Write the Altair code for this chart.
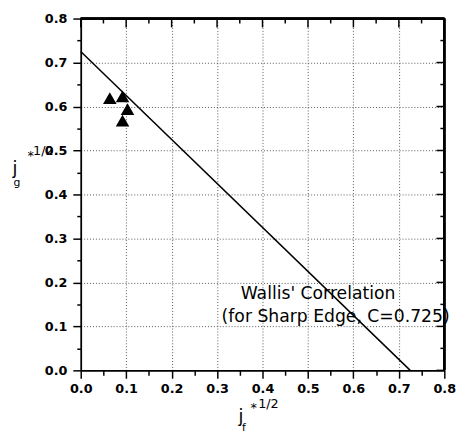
import altair as alt
import pandas as pd

# Wallis' correlation line: jf^1/2 + jg^1/2 = C (C = 0.725)
LINE_JF = [0.0, 0.725]
LINE_JG = [0.725, 0.0]

# Measured points (triangles)
PT_JF = [0.064, 0.092, 0.103, 0.092]
PT_JG = [0.619, 0.623, 0.594, 0.568]

# Axis tick values (major every 0.1, minor in between)
TICKS = [0.0, 0.05, 0.1, 0.15, 0.2, 0.25, 0.3, 0.35, 0.4, 0.45,
         0.5, 0.55, 0.6, 0.65, 0.7, 0.75, 0.8]
MAJOR_TICKS = [0.0, 0.1, 0.2, 0.3, 0.4, 0.5, 0.6, 0.7, 0.8]
MINOR_TICKS = [0.05, 0.15, 0.25, 0.35, 0.45, 0.55, 0.65, 0.75]

NOTE_TEXT = ["Wallis' Correlation", "(for Sharp Edge, C=0.725)"]
NOTE_X = [0.352, 0.31]
NOTE_Y = [0.174, 0.121]

W, H = 370, 358

line_df = pd.DataFrame({"jf": LINE_JF, "jg": LINE_JG})
pt_df = pd.DataFrame({"jf": PT_JF, "jg": PT_JG})
note_df = pd.DataFrame({"jf": NOTE_X, "jg": NOTE_Y, "t": NOTE_TEXT})
maj_df = pd.DataFrame({"v": MAJOR_TICKS})
min_df = pd.DataFrame({"v": MINOR_TICKS})

MAJOR = "abs(datum.value*10 - round(datum.value*10)) < 0.001"
INNER = MAJOR + " && datum.value > 0.01 && datum.value < 0.79"


def cond(test, a, b):
    return {"condition": {"test": test, "value": a}, "value": b}


xs = alt.Scale(domain=[0, 0.8], nice=False, zero=False)
ys = alt.Scale(domain=[0, 0.8], nice=False, zero=False)

common = dict(values=TICKS, title=None, tickColor="black", tickWidth=1.5,
              domainColor="black", domainWidth=1.8, labelOverlap=False,
              labelFlush=False, grid=True, gridOpacity=cond(INNER, 1, 0),
              gridDash=[1, 2], gridColor="#444444", gridWidth=0.9,
              labelFont="DejaVu Sans", labelFontWeight="bold", labelFontSize=13,
              labelColor="black",
              labelExpr=f"{MAJOR} ? format(datum.value, '.1f') : ''")

x_main = alt.Axis(orient="bottom", tickSize=cond(MAJOR, 8, 5), labelPadding=5, **common)
y_main = alt.Axis(orient="left", tickSize=cond(MAJOR, 8, 4), labelPadding=6, **common)

line = alt.Chart(line_df).mark_line(color="black", strokeWidth=1.5).encode(
    x=alt.X("jf:Q", scale=xs, axis=x_main),
    y=alt.Y("jg:Q", scale=ys, axis=y_main),
)

pts = alt.Chart(pt_df).mark_point(shape="triangle-up", filled=True, color="black",
                                  size=190, opacity=1).encode(
    x=alt.X("jf:Q", scale=xs, axis=None),
    y=alt.Y("jg:Q", scale=ys, axis=None),
)


def top_ticks(df, length):
    return alt.Chart(df).mark_rule(color="black", strokeWidth=1.5).encode(
        x=alt.X("v:Q", scale=xs, axis=None),
        y=alt.value(0), y2=alt.value(length))


def right_ticks(df, length):
    return alt.Chart(df).mark_rule(color="black", strokeWidth=1.5).encode(
        y=alt.Y("v:Q", scale=ys, axis=None),
        x=alt.value(W), x2=alt.value(W - length))


frame_top = alt.Chart(maj_df).mark_rule(color="black", strokeWidth=1.8).encode(
    x=alt.value(0), x2=alt.value(W), y=alt.value(0))
frame_right = alt.Chart(maj_df).mark_rule(color="black", strokeWidth=1.8).encode(
    x=alt.value(W), y=alt.value(0), y2=alt.value(H))

note = alt.Chart(note_df).mark_text(align="left", baseline="middle", font="DejaVu Sans",
                                    fontSize=17.5, color="black").encode(
    x=alt.X("jf:Q", scale=xs, axis=None),
    y=alt.Y("jg:Q", scale=ys, axis=None),
    text="t:N",
)

one = pd.DataFrame({"k": [0]})


def label(txt, x, y, size, baseline="middle", weight="normal"):
    return alt.Chart(one).mark_text(text=txt, font="DejaVu Sans", fontSize=size,
                                    fontWeight=weight, color="black", align="center",
                                    baseline=baseline).encode(
        x=alt.value(x), y=alt.value(y))


titles = [
    label("j", -67, 158, 18, "alphabetic"),
    label("g", -65, 167, 11),
    label("*", -51, 140, 13),
    label("1/2", -38, 135, 13),
    label("j", 163, 411, 18, "alphabetic"),
    label("f", 166, 417, 11),
    label("*", 176, 396, 13),
    label("1/2", 191, 392, 13),
]

chart = alt.layer(
    line, pts, note,
    top_ticks(maj_df, 9), top_ticks(min_df, 5),
    right_ticks(maj_df, 8), right_ticks(min_df, 4),
    frame_top, frame_right, *titles
).resolve_axis(
    x="independent", y="independent"
).properties(
    width=W, height=H,
    autosize=alt.AutoSizeParams(type="none"),
    padding={"left": 74, "top": 7, "right": 18, "bottom": 60},
).configure_view(strokeWidth=0)

chart.save("out.html", embed_options={"renderer": "svg", "actions": False})
